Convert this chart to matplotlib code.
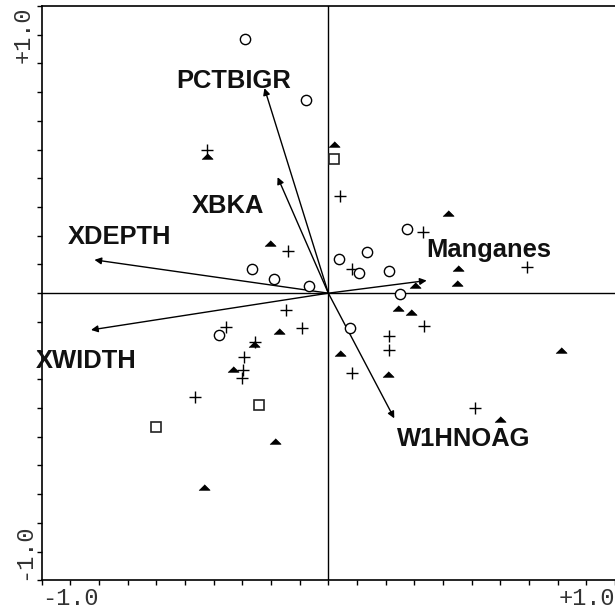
import matplotlib
matplotlib.use("Agg")
import matplotlib.pyplot as plt

# ---- data ----
circle_x = [-0.291, -0.078, -0.267, -0.191, -0.066, -0.381, 0.037, 0.134, 0.107, 0.213, 0.276, 0.249, 0.077]
circle_y = [0.886, 0.673, 0.084, 0.048, 0.026, -0.146, 0.119, 0.144, 0.071, 0.077, 0.223, -0.002, -0.122]

square_x = [0.021, -0.242, -0.600]
square_y = [0.467, -0.388, -0.465]

triangle_x = [-0.422, 0.021, -0.203, -0.171, -0.258, -0.331, 0.039, 0.417, 0.452, 0.448,
              0.303, 0.242, 0.288, 0.207, 0.812, 0.599, -0.186, -0.435]
triangle_y = [0.476, 0.520, 0.175, -0.131, -0.177, -0.263, -0.207, 0.280, 0.089, 0.036,
              0.028, -0.053, -0.064, -0.283, -0.198, -0.439, -0.516, -0.676]

plus_x = [-0.422, 0.041, -0.141, -0.149, -0.358, -0.091, -0.255, -0.293, -0.299, -0.302,
          0.329, 0.082, 0.334, 0.212, 0.212, 0.084, 0.694, 0.512, -0.464]
plus_y = [0.497, 0.339, 0.148, -0.059, -0.117, -0.122, -0.169, -0.223, -0.269, -0.294,
          0.212, 0.084, -0.113, -0.149, -0.198, -0.277, 0.092, -0.399, -0.363]

vector_names = ["PCTBIGR", "XBKA", "XDEPTH", "XWIDTH", "Manganes", "W1HNOAG"]
vector_x = [-0.223, -0.177, -0.816, -0.828, 0.343, 0.230]
vector_y = [0.714, 0.404, 0.116, -0.128, 0.044, -0.436]
label_x = [-0.329, -0.350, -0.730, -0.844, 0.561, 0.472]
label_y = [0.715, 0.280, 0.171, -0.261, 0.126, -0.531]

tick_values = [round(-1.0 + 0.1 * i, 1) for i in range(21)]
end_labels = ["-1.0", "+1.0"]

# ---- figure ----
fig = plt.figure(figsize=(6.15, 6.09), dpi=100)
ax = fig.add_axes([0.0678, 0.0471, 0.9322, 0.9430])
ax.set_xlim(-1.0, 1.0)
ax.set_ylim(-1.0, 1.0)

ax.axhline(0, color="black", lw=1.0, zorder=1)
ax.axvline(0, color="black", lw=1.0, zorder=1)

for name, vx, vy, lx, ly in zip(vector_names, vector_x, vector_y, label_x, label_y):
    ax.annotate("", xy=(vx, vy), xytext=(0, 0),
                arrowprops=dict(arrowstyle="-|>", color="black", lw=1.0,
                                mutation_scale=10, shrinkA=0, shrinkB=0),
                zorder=2)
    ax.text(lx, ly, name, ha="center", va="baseline", fontsize=18.4,
            fontweight="bold", family="Liberation Sans", color="#111111", zorder=4)

tri = [(-1, -0.5), (1, -0.5), (0, 0.5)]
ax.plot(triangle_x, triangle_y, linestyle="none", marker=tri, markersize=8.0,
        markerfacecolor="black", markeredgecolor="black", markeredgewidth=0.5, zorder=3)
ax.plot(plus_x, plus_y, linestyle="none", marker="+", markersize=9.0,
        markeredgecolor="black", markeredgewidth=1.0, zorder=3)
ax.plot(circle_x, circle_y, linestyle="none", marker="o", markersize=7.4,
        markerfacecolor="white", markeredgecolor="black", markeredgewidth=1.0, zorder=3)
ax.plot(square_x, square_y, linestyle="none", marker="s", markersize=7.0,
        markerfacecolor="white", markeredgecolor="#222222", markeredgewidth=1.2, zorder=3)

for s in ["left", "bottom", "top"]:
    ax.spines[s].set_linewidth(1.2)
ax.spines["right"].set_visible(False)

xlabels = [""] * len(tick_values)
xlabels[0], xlabels[-1] = end_labels
ax.set_xticks(tick_values)
ax.set_xticklabels(xlabels, family="Liberation Mono", fontsize=17, color="#333333")
ax.set_yticks(tick_values)
ax.set_yticklabels(xlabels, family="Liberation Mono", fontsize=17, color="#333333", rotation=90)
ax.tick_params(axis="both", direction="out", length=3.5, width=1.0, pad=1.5)
ax.tick_params(top=False, right=False)

xl = ax.get_xticklabels()
xl[0].set_ha("left")
xl[-1].set_ha("right")
yl = ax.get_yticklabels()
yl[0].set_va("bottom")
yl[-1].set_va("top")
for t in yl:
    t.set_ha("right")

fig.savefig("out.png", dpi=100)
